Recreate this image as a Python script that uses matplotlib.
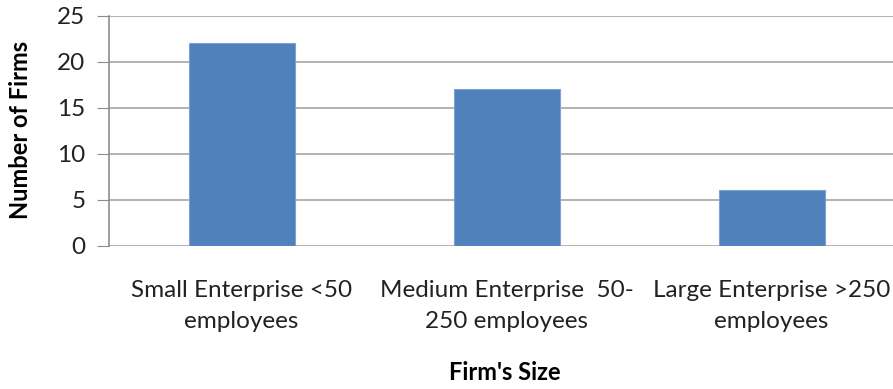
import matplotlib.pyplot as plt
import numpy as np

plt.rcParams['font.family'] = ['Lato', 'DejaVu Sans']

sizes = ['Small Enterprise <50\nemployees',
         'Medium Enterprise  50-\n250 employees',
         'Large Enterprise >250\nemployees']
firms = [22, 17, 6]
y_ticks = [0, 5, 10, 15, 20, 25]

fig = plt.figure(figsize=(8.93, 3.89), dpi=100)
ax = fig.add_axes([109/893, 143.5/389, 795/893, 229.8/389])

x = np.arange(len(sizes))
ax.bar(x, firms, width=0.4, color='#4f81bd', edgecolor='#7ea3d2', linewidth=0.8, zorder=3)

ax.set_xlim(-0.5, 2.5)
ax.set_ylim(0, 25)
ax.set_yticks(y_ticks)
ax.set_xticks(x)
ax.set_xticklabels(sizes, fontsize=17.5, color='#222222', linespacing=1.6)
ax.tick_params(axis='x', length=0, pad=25)
ax.tick_params(axis='y', labelsize=17.5, labelcolor='#222222', color='#8c8c8c', length=9, pad=8)

ax.grid(axis='y', color='#a6a6a6', linewidth=1.2, zorder=0)
for s in ['top', 'right', 'bottom']:
    ax.spines[s].set_visible(False)
ax.spines['left'].set_color('#8c8c8c')
ax.spines['left'].set_linewidth(1.2)

fig.text(21/893, 1 - 130/389, 'Number of Firms', fontsize=17, fontweight='bold',
         rotation=90, ha='center', va='center')
fig.text(505/893, 1 - 372/389, "Firm's Size", fontsize=17, fontweight='bold',
         ha='center', va='center')

fig.savefig('out.png', dpi=100)
